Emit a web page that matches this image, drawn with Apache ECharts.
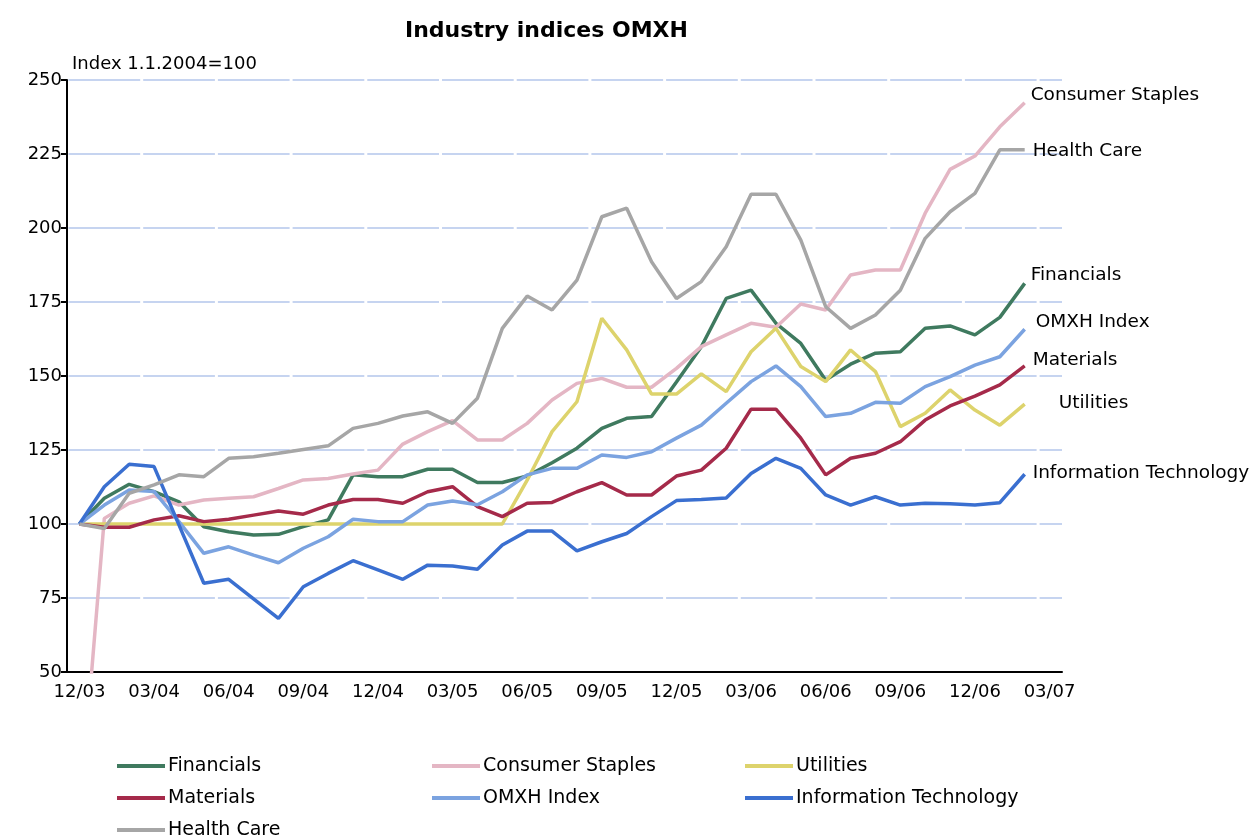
<!DOCTYPE html>
<html lang="en">

<head>
    <meta charset="UTF-8">
    <title>Industry indices OMXH</title>
    <script src="https://cdn.jsdelivr.net/npm/echarts@6.0.0/dist/echarts.min.js"></script>
    <style>
        body { margin: 0; background: #fff; }
    </style>
</head>

<body>
    <div id="main" style="width: 1260px; height: 838px;"></div>
    <script type="text/javascript">
        // months, last one (03/07) has no value
        var months = ['12/03', '01/04', '02/04', '03/04', '04/04', '05/04', '06/04', '07/04', '08/04', '09/04', '10/04', '11/04',
            '12/04', '01/05', '02/05', '03/05', '04/05', '05/05', '06/05', '07/05', '08/05', '09/05', '10/05', '11/05',
            '12/05', '01/06', '02/06', '03/06', '04/06', '05/06', '06/06', '07/06', '08/06', '09/06', '10/06', '11/06',
            '12/06', '01/07', '02/07', '03/07'];
        var yTicks = [50, 75, 100, 125, 150, 175, 200, 225, 250];

        var financials = [100, 108.7, 113.4, 110.9, 107.5, 99.1, 97.4, 96.3, 96.5, 99.1, 101.4, 116.6, 116, 116, 118.5, 118.5,
            114, 114, 116.2, 120.7, 125.6, 132.3, 135.7, 136.3, 148, 159.9, 176.2, 179, 167.8, 161, 148.6, 154, 157.7, 158.2,
            166.1, 166.9, 163.9, 169.8, 181.3];
        var consumerStaples = [0, 101.9, 107, 109.5, 106.4, 108.1, 108.7, 109.2, 112, 114.9, 115.4, 116.9, 118.2, 127, 131.2,
            134.9, 128.4, 128.4, 134, 141.9, 147.5, 149.2, 146.2, 146.2, 152.6, 159.9, 163.9, 167.8, 166.5, 174.3, 172.3, 184.1,
            185.8, 185.8, 205, 219.8, 224.3, 234.2, 242.3];
        var utilities = [100, 100, 100, 100, 100, 100, 100, 100, 100, 100, 100, 100, 100, 100, 100, 100, 100, 100,
            114.8, 131.2, 141.3, 169.5, 158.8, 143.9, 143.9, 150.7, 144.7, 158.2, 166.1, 153.2, 148.1, 158.8, 151.5, 132.9,
            137.4, 145.3, 138.5, 133.4, 140.5];
        var materials = [100, 98.9, 98.9, 101.4, 102.8, 100.8, 101.6, 103, 104.4, 103.3, 106.4, 108.3, 108.3, 107, 110.9, 112.6,
            105.9, 102.5, 107, 107.3, 110.9, 114, 109.8, 109.8, 116.2, 118.2, 125.6, 138.8, 138.8, 129, 116.6, 122.2, 123.9,
            127.8, 135.1, 139.9, 143.2, 147, 153.4];
        var omxh = [100, 106.4, 111.5, 111, 100.8, 90.1, 92.3, 89.5, 86.9, 91.8, 95.7, 101.6, 100.8, 100.8, 106.4, 107.8,
            106.5, 110.9, 116.6, 118.8, 118.8, 123.3, 122.5, 124.4, 129, 133.4, 140.8, 148.1, 153.4, 146.4, 136.3, 137.4, 141.1,
            140.8, 146.4, 149.8, 153.7, 156.5, 165.8];
        var infoTech = [100, 112.6, 120.2, 119.4, 99.7, 80, 81.3, 74.7, 68.1, 78.8, 83.3, 87.6, 84.5, 81.3, 86.1, 85.8,
            84.7, 92.9, 97.6, 97.6, 90.9, 94, 96.8, 102.5, 107.9, 108.3, 108.8, 117.1, 122.2, 118.8, 109.8, 106.4, 109.2,
            106.4, 107, 106.8, 106.4, 107.2, 116.8];
        var healthCare = [100, 98.5, 110.4, 113.2, 116.6, 116, 122.2, 122.7, 123.9, 125.2, 126.4, 132.3, 134, 136.5, 137.9,
            134, 142.5, 166.1, 177, 172.3, 182.4, 203.8, 206.7, 188.6, 176.2, 181.9, 193.7, 211.4, 211.4, 195.9, 173.4, 166.1,
            170.6, 179, 196.5, 205.5, 211.7, 226.4, 226.4];

        var font = 'DejaVu Sans';
        var myChart = echarts.init(document.getElementById('main'));

        // name, data, colour, end label offset
        var lines = [
            ['Financials', financials, '#3F7A5F', [0, -8]],
            ['Consumer Staples', consumerStaples, '#E4B6C4', [0, -8]],
            ['Utilities', utilities, '#DDD36C', [28, -1]],
            ['Materials', materials, '#A52A4A', [2, -6]],
            ['OMXH Index', omxh, '#7BA3E0', [5, -7]],
            ['Information Technology', infoTech, '#3A6FD0', [2, -1]],
            ['Health Care', healthCare, '#A6A6A6', [2, 1]]
        ];

        var series = lines.map(function (l) {
            return {
                name: l[0],
                type: 'line',
                data: l[1],
                symbol: 'none',
                color: l[2],
                lineStyle: { width: 3.5, color: l[2] },
                endLabel: {
                    show: true,
                    formatter: '{a}',
                    distance: 6,
                    offset: l[3],
                    color: '#000',
                    fontFamily: font,
                    fontSize: 18.5
                },
                emphasis: { disabled: true }
            };
        });

        // legend: three columns under the plot, one box per item
        var legendPos = [
            ['Financials', 117, 756], ['Consumer Staples', 432, 756], ['Utilities', 745, 756],
            ['Materials', 117, 788], ['OMXH Index', 432, 788], ['Information Technology', 745, 788],
            ['Health Care', 117, 820]
        ];
        var legends = legendPos.map(function (p) {
            return {
                data: [p[0]],
                left: p[1],
                top: p[2],
                padding: 0,
                itemWidth: 48,
                itemHeight: 4,
                icon: 'rect',
                textStyle: { color: '#000', fontFamily: font, fontSize: 19, lineHeight: 20, padding: [0, 0, 0, -2] }
            };
        });

        option = {
            backgroundColor: '#fff',
            animation: false,
            title: {
                text: 'Industry indices OMXH',
                left: 400,
                top: 15,
                textStyle: { color: '#000', fontFamily: font, fontSize: 22, fontWeight: 'bold' }
            },
            graphic: [{
                type: 'text',
                left: 72,
                top: 55,
                style: { text: 'Index 1.1.2004=100', fill: '#000', font: '18px "DejaVu Sans"' }
            }],
            legend: legends,
            grid: { left: 67, top: 80, width: 995, height: 592 },
            xAxis: {
                type: 'category',
                data: months,
                boundaryGap: true,
                axisLine: { lineStyle: { color: '#000', width: 2 } },
                axisTick: { interval: 2, length: 6, lineStyle: { color: '#000', width: 2 } },
                axisLabel: { interval: 2, color: '#000', fontFamily: font, fontSize: 18, margin: 11 },
                splitLine: { show: false }
            },
            yAxis: {
                type: 'value',
                min: yTicks[0],
                max: yTicks[yTicks.length - 1],
                interval: 25,
                axisLine: { show: true, lineStyle: { color: '#000', width: 2 } },
                axisTick: { show: true, length: 6, lineStyle: { color: '#000', width: 2 } },
                axisLabel: { color: '#000', fontFamily: font, fontSize: 18, margin: 5 },
                splitLine: {
                    lineStyle: { color: '#C6D4F0', width: 2, type: [71.7, 3], dashOffset: 73.2 }
                }
            },
            series: series
        };
        myChart.setOption(option);
    </script>

</body>

</html>
